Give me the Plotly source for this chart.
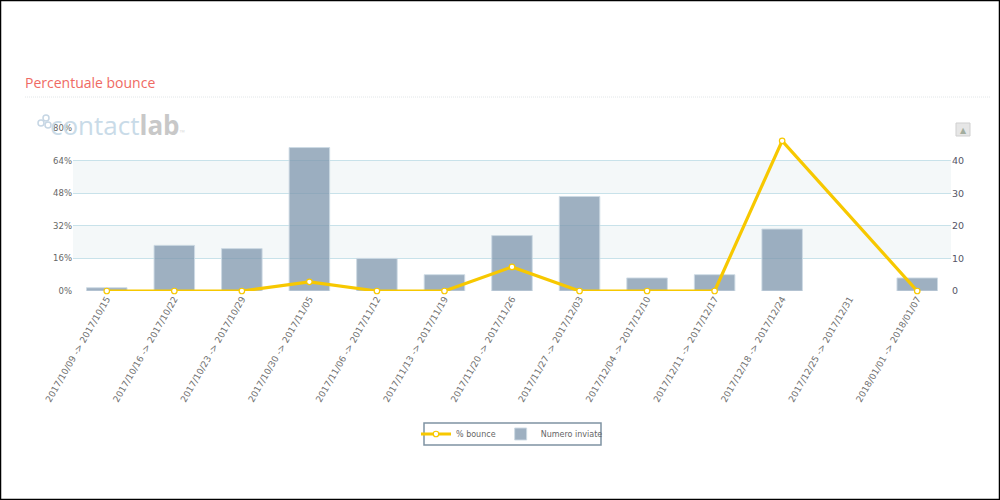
import plotly.graph_objects as go

weeks = ["2017/10/09 -> 2017/10/15", "2017/10/16 -> 2017/10/22", "2017/10/23 -> 2017/10/29",
         "2017/10/30 -> 2017/11/05", "2017/11/06 -> 2017/11/12", "2017/11/13 -> 2017/11/19",
         "2017/11/20 -> 2017/11/26", "2017/11/27 -> 2017/12/03", "2017/12/04 -> 2017/12/10",
         "2017/12/11 -> 2017/12/17", "2017/12/18 -> 2017/12/24", "2017/12/25 -> 2017/12/31",
         "2018/01/01 -> 2018/01/07"]
sent = [1, 14, 13, 44, 10, 5, 17, 29, 4, 5, 19, None, 4]
bounce = [0, 0, 0, 4.5, 0, 0, 11.8, 0, 0, 0, 73.7, None, 0]
pct_ticks = [0, 16, 32, 48, 64, 80]
pct_labels = ["0%", "16%", "32%", "48%", "64%", "80%"]
sent_ticks = [0, 10, 20, 30, 40]
bands = [(10, 20), (30, 40)]

L, R, T, B = 73, 951, 128, 291
def px(x): return (x - L) / (R - L)
def py(y): return (B - y) / (B - T)

fig = go.Figure()
fig.add_bar(x=weeks, y=sent, name="Numero inviate", yaxis="y", width=0.6, legendrank=2,
            marker=dict(color="rgba(125,150,172,0.75)", line=dict(color="rgba(205,218,228,0.9)", width=1)))
fig.add_scatter(x=weeks, y=bounce, name="% bounce", yaxis="y2", mode="lines+markers", connectgaps=True,
                legendrank=1, cliponaxis=False,
                line=dict(color="#f7c800", width=3.2),
                marker=dict(size=5.5, color="white", line=dict(color="#f7c800", width=1.2)))

shapes = [dict(type="rect", xref="x domain", x0=0, x1=1, yref="y", y0=a, y1=b,
               fillcolor="#f4f8f9", line_width=0, layer="below") for a, b in bands]
shapes += [
    dict(type="line", xref="paper", yref="paper", x0=px(25), x1=px(990), y0=py(97), y1=py(97),
         line=dict(color="#e2e6e8", width=1, dash="1px,1px")),
    dict(type="rect", xref="paper", yref="paper", x0=px(0.5), x1=px(999.5), y0=py(499.5), y1=py(0.5),
         line=dict(color="black", width=1.5)),
    dict(type="circle", xref="paper", yref="paper", x0=px(38), x1=px(44), y0=py(126), y1=py(120),
         line=dict(color="#c6d6e4", width=1.5)),
    dict(type="circle", xref="paper", yref="paper", x0=px(43), x1=px(49), y0=py(121), y1=py(115),
         line=dict(color="#c6d6e4", width=1.5)),
    dict(type="circle", xref="paper", yref="paper", x0=px(45), x1=px(51), y0=py(128), y1=py(122),
         line=dict(color="#c6d6e4", width=1.5)),
    dict(type="rect", xref="paper", yref="paper", x0=px(956), x1=px(970), y0=py(136), y1=py(123),
         line=dict(color="#cfcfcf", width=1), fillcolor="#e6e6e6"),
    dict(type="rect", xref="paper", yref="paper", x0=px(424), x1=px(601), y0=py(445), y1=py(423),
         line=dict(color="#7f93a3", width=1.5), fillcolor="white"),
]

annotations = [
    dict(text="<span style='color:#c9dbe8'>contact</span><b style='color:#c8c8c8'>lab</b>"
              "<span style='color:#dddddd;font-size:7px'>™</span>",
         xref="paper", yref="paper", x=px(48), y=py(125), xanchor="left", yanchor="middle",
         showarrow=False, font=dict(family="Open Sans", size=26)),
    dict(text="▲", xref="paper", yref="paper", x=px(963), y=py(130), xanchor="center", yanchor="middle",
         showarrow=False, font=dict(family="DejaVu Sans", size=8, color="#a3ad9e")),
]

fig.update_layout(
    width=1000, height=500, autosize=False, paper_bgcolor="white", plot_bgcolor="rgba(0,0,0,0)",
    margin=dict(l=L, r=1000 - R, t=T, b=500 - B),
    title=dict(text="Percentuale bounce", xref="container", yref="container", x=0.025, y=1 - 83 / 500,
               xanchor="left", yanchor="middle", font=dict(family="Open Sans", size=14, color="#ef6a63")),
    font=dict(family="DejaVu Sans", size=9, color="#666666"),
    xaxis=dict(type="category", categoryorder="array", categoryarray=weeks, range=[-0.5, 12.5],
               tickangle=-60, showgrid=False, showline=False, ticks="", zeroline=False,
               tickfont=dict(size=9, color="#6f6f6f")),
    yaxis=dict(side="right", range=[0, 50], tickvals=sent_ticks, showgrid=True, gridcolor="#c8e2ea",
               gridwidth=1, zeroline=False, showline=False, ticks="", tickfont=dict(size=9.5, color="#555566")),
    yaxis2=dict(side="left", overlaying="y", range=[0, 80], tickvals=pct_ticks, ticktext=pct_labels,
                showgrid=False, zeroline=False, showline=False, ticks="", tickfont=dict(size=8.5, color="#666666")),
    legend=dict(orientation="h", x=px(512), y=py(434), xanchor="center", yanchor="middle",
                bgcolor="rgba(0,0,0,0)", font=dict(size=8, color="#666666"), itemwidth=30),
    shapes=shapes, annotations=annotations, bargap=0.4,
)
fig.write_html("out.html", config={"displayModeBar": False},
               post_script="document.body.style.margin='0';document.documentElement.style.overflow='hidden';")
